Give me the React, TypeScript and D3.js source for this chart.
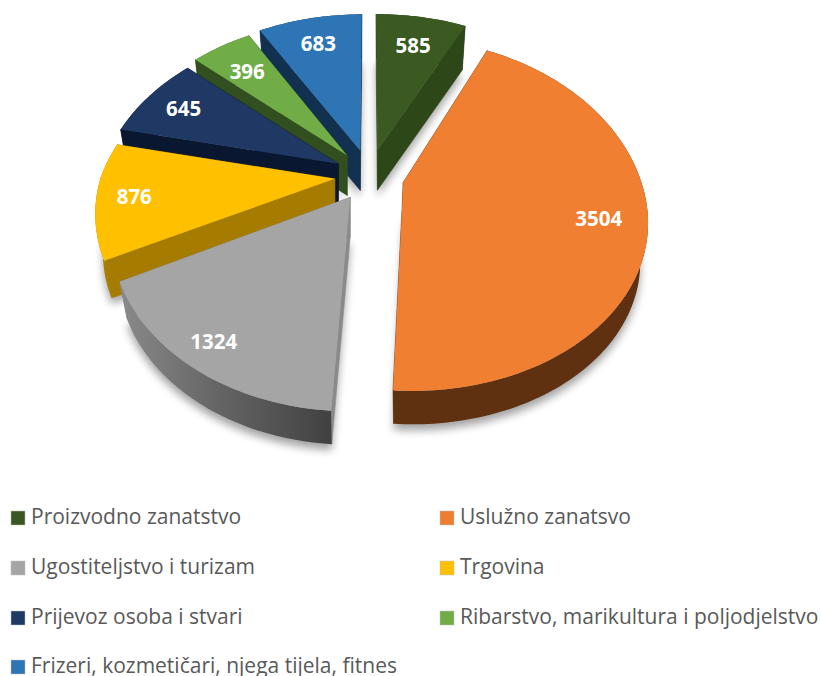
import React from 'react';
import * as d3 from 'd3';

const categories = ['Proizvodno zanatstvo','Uslužno zanatsvo','Ugostiteljstvo i turizam','Trgovina','Prijevoz osoba i stvari','Ribarstvo, marikultura i poljodjelstvo','Frizeri, kozmetičari, njega tijela, fitnes'];
const values = [585, 3504, 1324, 876, 645, 396, 683];
const topColors = ['#3b5a22','#f07f31','#a5a5a5','#ffc000','#203864','#70ad47','#2e75b6'];
const radialColors = ['#2d4719','#5f3110','#8a8a8a','#a67c00','#0a1730','#324f1f','#12304f'];
const rimColors = ['#2d4719','#5f3110','url(#grayRim)','#a67c00','#0a1730','#324f1f','#12304f'];
const legendColors = ['#385723','#ed7d31','#a5a5a5','#ffc000','#1f3864','#70ad47','#2e75b6'];
const labelFractions = [0.79, 0.805, 0.875, 0.84, 0.81, 0.775, 0.81];
const backStretch = [1, 1.06, 1, 1, 1, 1, 1];
const drawOrder = [0, 6, 5, 4, 3, 1, 2];

const W = 821, H = 676;
const CX = 369.5, CY = 175.5, EX = 35, EY = 26;
const R = 238, LEFT_SCALE = 0.985, YR = 164, P = 0.205, DEPTH = 40, BOTTOM_SCALE = 0.968, SHIFT_X = 1, SHIFT_Y = 1.4;

const arcs = d3.pie<number>().sort(null).startAngle(0).endAngle(2 * Math.PI)(values);
const line = d3.line<[number, number]>();

const rim = (a: number, k = 1, stretch = 1): [number, number] => {
  const s = 1 / (1 + P * Math.cos(a));
  const back = Math.cos(a) > 0 ? stretch : 1;
  const side = Math.sin(a) < 0 ? LEFT_SCALE : 1;
  return [R * side * Math.sin(a) * s * k, -YR * Math.cos(a) * s * k * back];
};

const apexOf = (mid: number): [number, number] => [CX + EX * Math.sin(mid), CY - EY * Math.cos(mid)];

function geometry(i: number) {
  const { startAngle: a0, endAngle: a1 } = arcs[i];
  const mid = (a0 + a1) / 2;
  const [ax, ay] = apexOf(mid);
  const n = Math.max(8, Math.ceil((a1 - a0) * 50));
  const angles = d3.range(n + 1).map(j => a0 + ((a1 - a0) * j) / n);
  // the exploded offset grows with the perspective of each rim point
  const shift = (a: number): [number, number] => {
    const s = 1 / (1 + P * Math.cos(a));
    const ex = EX * Math.sin(mid);
    const sx = ex < 0 && s > 1 ? 0 : ex * (s - 1) * SHIFT_X;
    return [sx, -EY * Math.cos(mid) * Math.max(s - 1, 0) * SHIFT_Y];
  };
  const topArc = angles.map(a => {
    const [x, y] = rim(a, 1, backStretch[i]);
    const [sx, sy] = shift(a);
    return [ax + x + sx, ay + y + sy] as [number, number];
  });
  const botArc = angles.map(a => {
    const [x, y] = rim(a, BOTTOM_SCALE, backStretch[i]);
    const [sx, sy] = shift(a);
    return [ax + x + sx, ay + DEPTH + y + sy] as [number, number];
  });
  const apexT: [number, number] = [ax, ay];
  const apexB: [number, number] = [ax, ay + DEPTH];
  return { a0, a1, mid, ax, ay, topArc, botArc, apexT, apexB };
}

const path = (pts: [number, number][]) => line(pts) + 'Z';

const legendBaselines = [524, 574, 624, 673];
const legendCols = [11, 440];

export default function App() {
  const geos = values.map((_, i) => geometry(i));
  return (
    <svg width={W} height={H} style={{ position: 'absolute', left: 0, top: 0 }} fontFamily="'Open Sans', sans-serif">
      <defs>
        <linearGradient id="grayRim" x1="0" x2="1" y1="0" y2="0">
          <stop offset="0" stopColor="#8a8a8a" />
          <stop offset="0.45" stopColor="#666666" />
          <stop offset="1" stopColor="#414141" />
        </linearGradient>
        <filter id="soft" x="-30%" y="-30%" width="160%" height="160%">
          <feGaussianBlur stdDeviation="4" />
        </filter>
      </defs>
      <g filter="url(#soft)" transform="translate(0,6)" opacity="0.36">
        {geos.map((g, i) => (
          <path key={i} d={path([g.apexB, ...g.botArc])} fill="#000" />
        ))}
      </g>
      {drawOrder.map(i => {
        const g = geos[i];
        const n = g.topArc.length - 1;
        return (
          <g key={i}>
            <path d={path([g.apexT, g.topArc[0], g.botArc[0], g.apexB])} fill={radialColors[i]} stroke={radialColors[i]} strokeWidth={0.5} />
            <path d={path([g.apexT, g.topArc[n], g.botArc[n], g.apexB])} fill={radialColors[i]} stroke={radialColors[i]} strokeWidth={0.5} />
            <path d={path([...g.topArc, ...[...g.botArc].reverse()])} fill={rimColors[i]} />
            <path d={path([g.apexT, ...g.topArc])} fill={topColors[i]} />
          </g>
        );
      })}
      {values.map((v, i) => {
        const g = geos[i];
        const [x, y] = rim(g.mid, labelFractions[i]);
        return (
          <text key={i} x={g.ax + x} y={g.ay + y} dy="0.38em" textAnchor="middle" fontSize={20.5} fontWeight={700} fill="#fff">{v}</text>
        );
      })}
      {categories.map((c, i) => {
        const x = legendCols[i % 2];
        const y = legendBaselines[Math.floor(i / 2)];
        return (
          <g key={c}>
            <rect x={x} y={y - 13} width={14} height={14} fill={legendColors[i]} stroke="#bfbfbf" strokeWidth={0.5} />
            <text x={x + 20} y={y} fontSize={21} fill="#595959">{c}</text>
          </g>
        );
      })}
    </svg>
  );
}
